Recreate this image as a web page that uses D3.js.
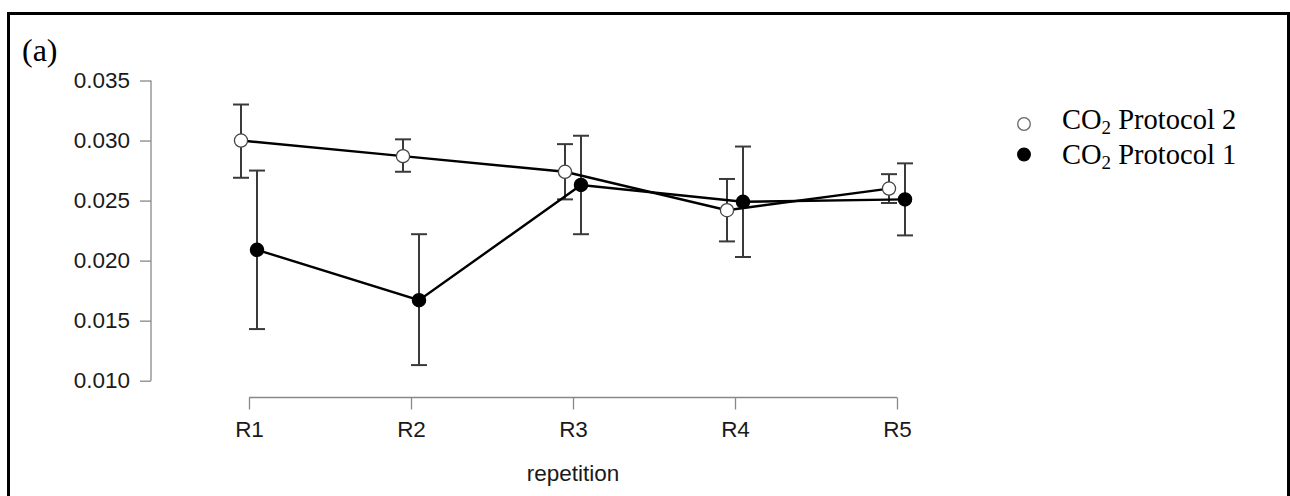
<!DOCTYPE html>
<html>
<head>
<meta charset="utf-8">
<script src="https://cdn.jsdelivr.net/npm/d3@7"></script>
<style>
  body { margin: 0; background: #fff; }
  svg { display: block; }
</style>
</head>
<body>
<div id="chart"></div>
<script>
// categories and values
var categories   = ["R1", "R2", "R3", "R4", "R5"];
var yTicks       = [0.010, 0.015, 0.020, 0.025, 0.030, 0.035];

// CO2 Protocol 2 (open circles)
var p2Mean = [0.0300, 0.0287, 0.0274, 0.0242, 0.0260];
var p2Low  = [0.0269, 0.0274, 0.0251, 0.0216, 0.0248];
var p2High = [0.0330, 0.0301, 0.0297, 0.0268, 0.0272];

// CO2 Protocol 1 (filled circles)
var p1Mean = [0.0209, 0.0167, 0.0263, 0.0249, 0.0251];
var p1Low  = [0.0143, 0.0113, 0.0222, 0.0203, 0.0221];
var p1High = [0.0275, 0.0222, 0.0304, 0.0295, 0.0281];

const chart_width = 1290, chart_height = 496;

var svg = d3.select("#chart")
  .append("svg")
  .attr("width", chart_width)
  .attr("height", chart_height);

// frame around the panel
svg.append("path")
  .attr("d", "M8.5,496 L8.5,13.5 L1288.5,13.5 L1288.5,496")
  .attr("fill", "none")
  .attr("stroke", "#000")
  .attr("stroke-width", 3);

svg.append("text")
  .attr("x", 22)
  .attr("y", 61)
  .attr("font-family", "'Liberation Serif', 'Times New Roman', serif")
  .attr("font-size", 32)
  .attr("fill", "#000")
  .text("(a)");

// scales
const x_scale = d3.scalePoint()
  .domain(categories)
  .range([249, 897]);

const y_scale = d3.scaleLinear()
  .domain([0.010, 0.035])
  .range([380.7, 80.5]);

// axes (R style: line spans first to last tick)
var yAxis = svg.append("g")
  .attr("transform", "translate(151,0)")
  .call(d3.axisLeft(y_scale).tickValues(yTicks).tickFormat(d3.format(".3f")).tickSize(11).tickPadding(10));

var xAxis = svg.append("g")
  .attr("transform", "translate(0,397.5)")
  .call(d3.axisBottom(x_scale).tickSize(12).tickPadding(12));

[yAxis, xAxis].forEach(function(g) {
  g.select(".domain").remove();
  g.selectAll(".tick line").attr("stroke", "#888").attr("stroke-width", 1.3);
  g.selectAll(".tick text")
    .attr("fill", "#1a1a1a")
    .attr("font-family", "'Liberation Sans', Arial, sans-serif")
    .attr("font-size", 22.5);
});

svg.append("line")
  .attr("x1", 151).attr("x2", 151)
  .attr("y1", y_scale(0.035)).attr("y2", y_scale(0.010))
  .attr("stroke", "#888").attr("stroke-width", 1.3);

svg.append("line")
  .attr("x1", x_scale("R1")).attr("x2", x_scale("R5"))
  .attr("y1", 397.5).attr("y2", 397.5)
  .attr("stroke", "#888").attr("stroke-width", 1.3);

svg.append("text")
  .attr("x", x_scale("R3"))
  .attr("y", 481)
  .attr("text-anchor", "middle")
  .attr("font-family", "'Liberation Sans', Arial, sans-serif")
  .attr("font-size", 22.5)
  .attr("fill", "#1a1a1a")
  .text("repetition");

// series
var series = [
  { name: "Protocol 2", mean: p2Mean, low: p2Low, high: p2High, shift: -8, fill: "#fff" },
  { name: "Protocol 1", mean: p1Mean, low: p1Low, high: p1High, shift: 8, fill: "#000" }
];

series.forEach(function(s) {
  var pts = categories.map(function(c, i) {
    return { x: x_scale(c) + s.shift, m: s.mean[i], lo: s.low[i], hi: s.high[i] };
  });

  var eb = svg.append("g").attr("stroke", "#3a3a3a").attr("stroke-width", 2);
  eb.selectAll(".v").data(pts).enter().append("line")
    .attr("x1", d => d.x).attr("x2", d => d.x)
    .attr("y1", d => y_scale(d.lo)).attr("y2", d => y_scale(d.hi));
  eb.selectAll(".t").data(pts).enter().append("line")
    .attr("x1", d => d.x - 8).attr("x2", d => d.x + 8)
    .attr("y1", d => y_scale(d.hi)).attr("y2", d => y_scale(d.hi));
  eb.selectAll(".b").data(pts).enter().append("line")
    .attr("x1", d => d.x - 8).attr("x2", d => d.x + 8)
    .attr("y1", d => y_scale(d.lo)).attr("y2", d => y_scale(d.lo));
  s.pts = pts;
});

series.forEach(function(s) {
  svg.append("path")
    .datum(s.pts)
    .attr("fill", "none")
    .attr("stroke", "#000")
    .attr("stroke-width", 2.4)
    .attr("d", d3.line().x(d => d.x).y(d => y_scale(d.m)));
});

series.forEach(function(s) {
  svg.selectAll(null)
    .data(s.pts)
    .enter()
    .append("circle")
    .attr("cx", d => d.x)
    .attr("cy", d => y_scale(d.m))
    .attr("r", 6.6)
    .attr("fill", s.fill)
    .attr("stroke", s.fill === "#000" ? "#000" : "#444")
    .attr("stroke-width", 1.3);
});

// legend
var legendNames = ["Protocol 2", "Protocol 1"];
var legendFill  = ["#fff", "#000"];
var legend = svg.append("g");
legendNames.forEach(function(n, i) {
  var yy = 124 + i * 30.5;
  legend.append("circle")
    .attr("cx", 1024).attr("cy", yy).attr("r", 6.3)
    .attr("fill", legendFill[i])
    .attr("stroke", i === 0 ? "#666" : "#000")
    .attr("stroke-width", 1.3);
  var t = legend.append("text")
    .attr("x", 1062).attr("y", yy + 5 + (i === 0 ? 0 : 4.5))
    .attr("font-family", "'Liberation Serif', 'Times New Roman', serif")
    .attr("font-size", 28.5)
    .attr("fill", "#000");
  t.append("tspan").text("CO");
  t.append("tspan").attr("font-size", 19).attr("dy", 5).text("2");
  t.append("tspan").attr("dy", -5).text(" " + n);
});
</script>
</body>
</html>
